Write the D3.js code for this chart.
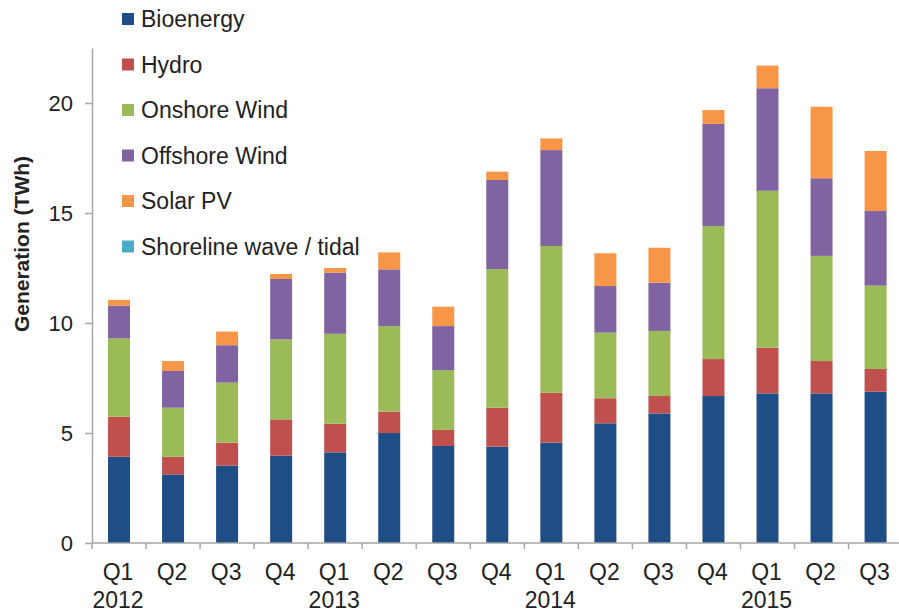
<!DOCTYPE html>
<html><head><meta charset="utf-8">
<script src="https://cdn.jsdelivr.net/npm/d3@7"></script>
<style>body{margin:0;background:#fff}svg{display:block}text{font-family:"Liberation Sans",Arial,sans-serif;fill:#222}</style>
</head><body>
<svg id="c" width="899" height="615"></svg>
<script>
const quarters = ["Q1","Q2","Q3","Q4","Q1","Q2","Q3","Q4","Q1","Q2","Q3","Q4","Q1","Q2","Q3"];
const years = ["2012","","","","2013","","","","2014","","","","2015","",""];
const seriesNames = ["Bioenergy","Hydro","Onshore Wind","Offshore Wind","Solar PV","Shoreline wave / tidal"];
const bioenergy = [3.92,3.12,3.52,3.97,4.12,5.00,4.41,4.38,4.56,5.44,5.89,6.68,6.80,6.80,6.88];
const hydro     = [1.82,0.80,1.04,1.65,1.30,0.97,0.73,1.77,2.27,1.14,0.79,1.68,2.08,1.47,1.03];
const onshore   = [3.56,2.23,2.73,3.64,4.09,3.89,2.72,6.30,6.67,2.98,2.96,6.05,7.13,4.78,3.79];
const offshore  = [1.49,1.67,1.70,2.74,2.78,2.58,2.00,4.05,4.36,2.12,2.19,4.64,4.66,3.53,3.39];
const solar     = [0.26,0.45,0.62,0.23,0.21,0.77,0.88,0.38,0.53,1.49,1.59,0.63,1.03,3.25,2.73];
const tidal     = [0,0,0,0,0,0,0,0,0,0,0,0,0,0,0];
const yTicks = [0,5,10,15,20];
const colors = ["#1F4E87","#C0504D","#9BBB59","#8064A2","#F79646","#4BACC6"];

const svg = d3.select("#c");
const seriesVals = [bioenergy,hydro,onshore,offshore,solar,tidal];
const table = quarters.map((q,i)=>{const o={idx:i}; seriesNames.forEach((s,j)=>o[s]=seriesVals[j][i]); return o;});
const x = d3.scaleBand().domain(d3.range(quarters.length)).range([92,902.6]).paddingInner(0.593).paddingOuter(0.2965);
const xb = d3.scaleBand().domain(d3.range(quarters.length)).range([92,902.6]);
const y = d3.scaleLinear().domain([0,22.5]).range([543,48]);
const stack = d3.stack().keys(seriesNames)(table);

svg.append("g").selectAll("g").data(stack).join("g").attr("fill",(d,i)=>colors[i])
  .selectAll("rect").data(d=>d).join("rect")
  .attr("x",d=>x(d.data.idx)).attr("width",x.bandwidth())
  .attr("y",d=>y(d[1])).attr("height",d=>Math.max(0,y(d[0])-y(d[1])));

// y axis
const ya = svg.append("g").attr("transform","translate(92,0)")
  .call(d3.axisLeft(y).tickValues(yTicks).tickSize(7).tickPadding(12).tickSizeOuter(0));
ya.select(".domain").attr("stroke","#a6a6a6").attr("stroke-width",1.5);
ya.selectAll(".tick line").attr("stroke","#a6a6a6").attr("stroke-width",1.5);
ya.selectAll(".tick text").attr("font-size",22).attr("fill","#222").style("font-family","Liberation Sans, Arial, sans-serif");

// x axis
const xa = svg.append("g").attr("transform","translate(0,543)");
xa.append("line").attr("x1",92).attr("x2",902.6).attr("stroke","#a6a6a6").attr("stroke-width",1.5);
xa.selectAll("line.t").data(d3.range(quarters.length+1)).join("line").attr("class","t")
  .attr("x1",i=>i<quarters.length?xb(i):xb.range()[1]).attr("x2",i=>i<quarters.length?xb(i):xb.range()[1])
  .attr("y1",0).attr("y2",6).attr("stroke","#a6a6a6").attr("stroke-width",1.5);
xa.selectAll("text.q").data(quarters).join("text").attr("class","q")
  .attr("x",(d,i)=>x(i)+x.bandwidth()/2-1).attr("y",37).attr("text-anchor","middle").attr("font-size",23).text(d=>d);
xa.selectAll("text.yr").data(years).join("text").attr("class","yr")
  .attr("x",(d,i)=>x(i)+x.bandwidth()/2-1).attr("y",65).attr("text-anchor","middle").attr("font-size",23).text(d=>d);

// y title
svg.append("text").attr("transform","translate(29,244) rotate(-90)").attr("text-anchor","middle")
  .attr("font-size",21).attr("font-weight","bold").text("Generation (TWh)");

// legend
const lg = svg.append("g").selectAll("g").data(seriesNames).join("g")
  .attr("transform",(d,i)=>`translate(122,${19+i*45.5})`);
lg.append("rect").attr("x",0).attr("y",-6).attr("width",12).attr("height",12).attr("fill",(d,i)=>colors[i]);
lg.append("text").attr("x",19).attr("y",8).attr("font-size",23).text(d=>d);
</script>
</body></html>
